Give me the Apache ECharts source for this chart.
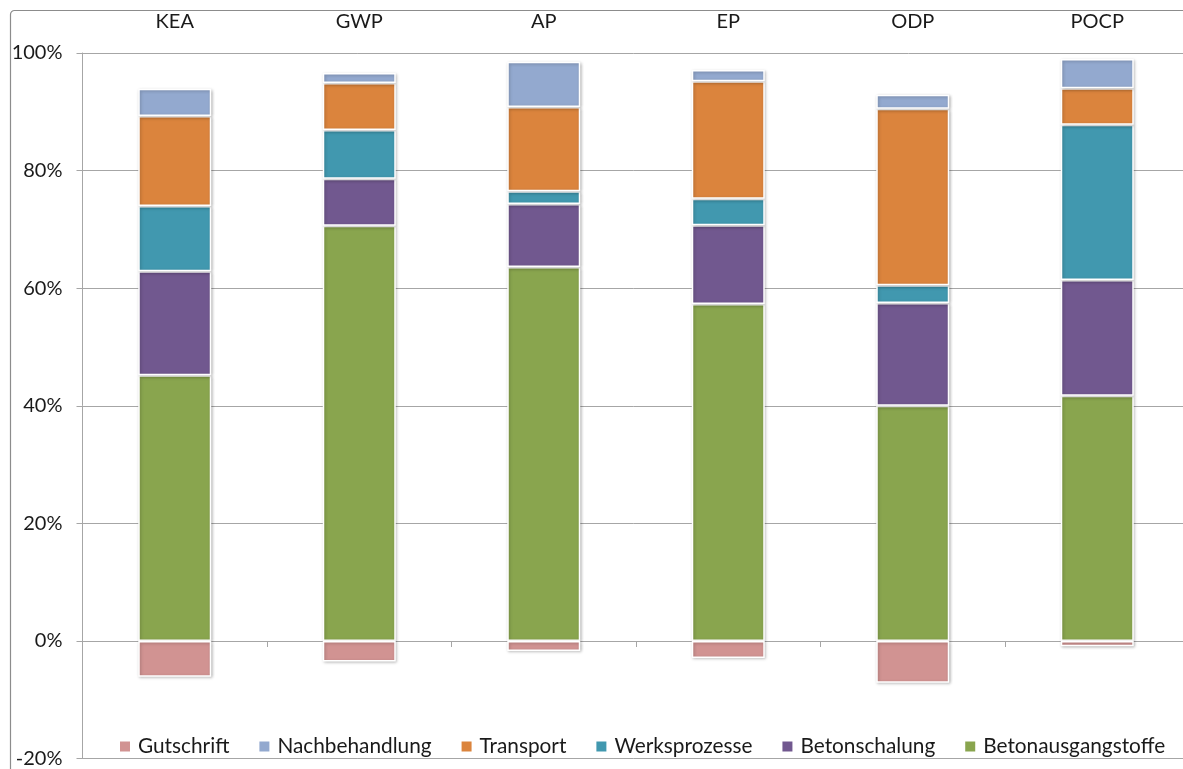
<!DOCTYPE html>
<html>
<head>
<meta charset="utf-8">
<script src="https://cdn.jsdelivr.net/npm/echarts@6/dist/echarts.min.js"></script>
<style>
html,body{margin:0;padding:0;background:#fff;}
#c{width:1183px;height:769px;}
</style>
</head>
<body>
<div id="c"></div>
<script>
const categories = ['KEA', 'GWP', 'AP', 'EP', 'ODP', 'POCP'];
const gutschrift = [-6.1, -3.5, -1.7, -2.9, -7.1, -0.9];
const betonausgangstoffe = [45.2, 70.6, 63.6, 57.3, 40.0, 41.7];
const betonschalung = [17.7, 8.0, 10.7, 13.4, 17.5, 19.7];
const werksprozesse = [11.1, 8.3, 2.2, 4.5, 3.0, 26.4];
const transport = [15.3, 8.0, 14.3, 20.0, 30.0, 6.2];
const nachbehandlung = [4.6, 1.7, 7.7, 1.9, 2.4, 5.0];
const yTicks = [-20, 0, 20, 40, 60, 80, 100];

const colors = {
  Gutschrift: '#D19392',
  Nachbehandlung: '#93A9CF',
  Transport: '#DB843D',
  Werksprozesse: '#4198AF',
  Betonschalung: '#71588F',
  Betonausgangstoffe: '#89A54E'
};
const FONT = 'Lato';
const chart = echarts.init(document.getElementById('c'));

function bar(name, data) {
  return {
    name: name, type: 'bar', stack: 'total', data: data, barWidth: 73,
    xAxisIndex: 0,
    itemStyle: {
      color: colors[name], borderColor: '#ffffff', borderWidth: 1.5,
      shadowBlur: 3, shadowColor: 'rgba(0,0,0,0.25)', shadowOffsetX: 1, shadowOffsetY: 1
    },
    emphasis: { disabled: true }
  };
}

chart.setOption({
  animation: false,
  backgroundColor: '#ffffff',
  graphic: [{
    type: 'rect', left: 8, top: 8, z: -1,
    shape: { width: 1220, height: 800, r: 4 },
    style: { fill: 'none', stroke: '#8c8c8c', lineWidth: 1.2 }
  }],
  grid: { left: 82.5, width: 1107, top: 53, height: 705.6, containLabel: false, outerBoundsMode: 'none' },
  legend: {
    left: 113, top: 731,
    itemWidth: 12, itemHeight: 12, itemGap: 28,
    icon: 'rect',
    textStyle: { fontFamily: FONT, fontSize: 20.8, color: '#1a1a1a', padding: [0, 0, 0, 2] },
    data: ['Gutschrift', 'Nachbehandlung', 'Transport', 'Werksprozesse', 'Betonschalung', 'Betonausgangstoffe']
  },
  xAxis: [{
    type: 'category', data: categories, position: 'top',
    axisLine: { show: false, onZero: false }, axisTick: { show: false },
    axisLabel: { fontFamily: FONT, fontSize: 20, color: '#1a1a1a', margin: 21 }
  }, {
    type: 'category', data: categories, position: 'bottom',
    axisLine: { show: true, onZero: true, onZeroAxisIndex: 0, lineStyle: { color: '#a6a6a6', width: 1 } },
    axisTick: { show: true, length: 6, alignWithLabel: false, lineStyle: { color: '#a6a6a6' } },
    axisLabel: { show: false }
  }],
  yAxis: {
    type: 'value', min: -20, max: 100, interval: 20,
    axisLine: { show: true, lineStyle: { color: '#a6a6a6' } },
    axisTick: { show: true, length: 6, lineStyle: { color: '#a6a6a6' } },
    axisLabel: { fontFamily: FONT, fontSize: 20, color: '#1a1a1a', margin: 20,
      formatter: function (v) { return yTicks.indexOf(v) >= 0 ? v + '%' : ''; } },
    splitLine: { show: true, lineStyle: { color: '#a6a6a6', width: 1 } }
  },
  series: [
    bar('Betonausgangstoffe', betonausgangstoffe),
    bar('Betonschalung', betonschalung),
    bar('Werksprozesse', werksprozesse),
    bar('Transport', transport),
    bar('Nachbehandlung', nachbehandlung),
    bar('Gutschrift', gutschrift)
  ]
});
</script>
</body>
</html>
